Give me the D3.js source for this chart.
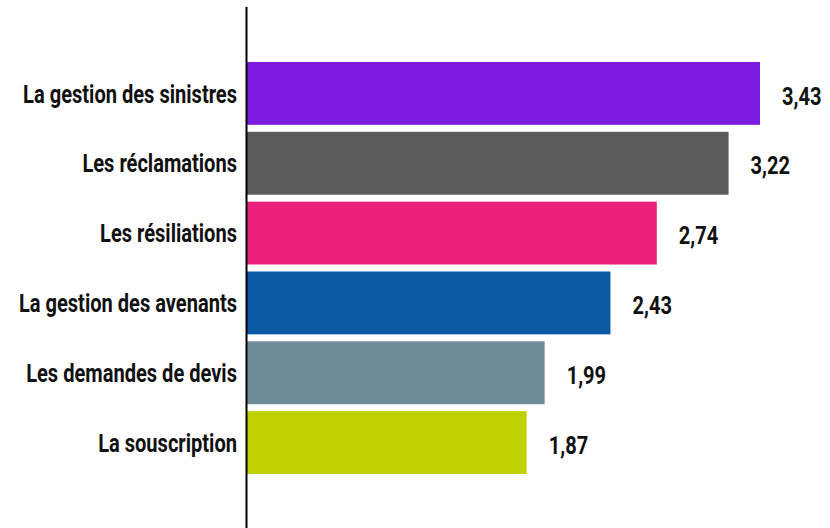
<!DOCTYPE html>
<html>
<head>
<meta charset="utf-8">
<script src="https://cdn.jsdelivr.net/npm/d3@7"></script>
<style>
  html, body { margin: 0; padding: 0; background: #fff; }
  svg text { font-family: Roboto, "DejaVu Sans", sans-serif; font-weight: bold; fill: #111; }
</style>
</head>
<body>
<svg id="chart" width="830" height="528"></svg>
<script>
const categories = [
  "La gestion des sinistres",
  "Les réclamations",
  "Les résiliations",
  "La gestion des avenants",
  "Les demandes de devis",
  "La souscription"
];
const values = [3.43, 3.22, 2.74, 2.43, 1.99, 1.87];
const colors = ["#7e1be0", "#5a5b5d", "#ec1f7a", "#0b59a3", "#6e8a9b", "#bfd200"];

const svg = d3.select("#chart");
const axisX = 247;
const fontSize = 25.5;

const x = d3.scaleLinear().domain([0, 3.43]).range([axisX, 760]);
const y = d3.scaleBand().domain(categories).range([58.5, 477.5]).paddingInner(0.1).paddingOuter(0.05);

const fmt = v => d3.format(".2f")(v).replace(".", ",");

svg.selectAll("rect.bar")
  .data(categories)
  .join("rect")
  .attr("class", "bar")
  .attr("x", x(0))
  .attr("y", d => y(d))
  .attr("width", (d, i) => x(values[i]) - x(0))
  .attr("height", y.bandwidth())
  .attr("fill", (d, i) => colors[i]);

// vertical axis line
svg.append("line")
  .attr("x1", axisX - 0.5).attr("x2", axisX - 0.5)
  .attr("y1", 7).attr("y2", 528)
  .attr("stroke", "#000").attr("stroke-width", 2);

// condensed look: measure the widest label and squeeze text horizontally
const probe = svg.append("text").style("font-size", fontSize + "px").text(categories[0]);
const squeeze = 214 / probe.node().getComputedTextLength();
probe.remove();

svg.selectAll("text.cat")
  .data(categories)
  .join("text")
  .attr("class", "cat")
  .attr("transform", d => `translate(237,${y(d) + y.bandwidth() / 2}) scale(${squeeze},1)`)
  .attr("dy", "0.36em")
  .attr("text-anchor", "end")
  .style("font-size", fontSize + "px")
  .text(d => d);

svg.selectAll("text.val")
  .data(categories)
  .join("text")
  .attr("class", "val")
  .attr("transform", (d, i) => `translate(${x(values[i]) + 22},${y(d) + y.bandwidth() / 2 + 2}) scale(${squeeze},1)`)
  .attr("dy", "0.36em")
  .style("font-size", fontSize + "px")
  .text((d, i) => fmt(values[i]));
</script>
</body>
</html>
